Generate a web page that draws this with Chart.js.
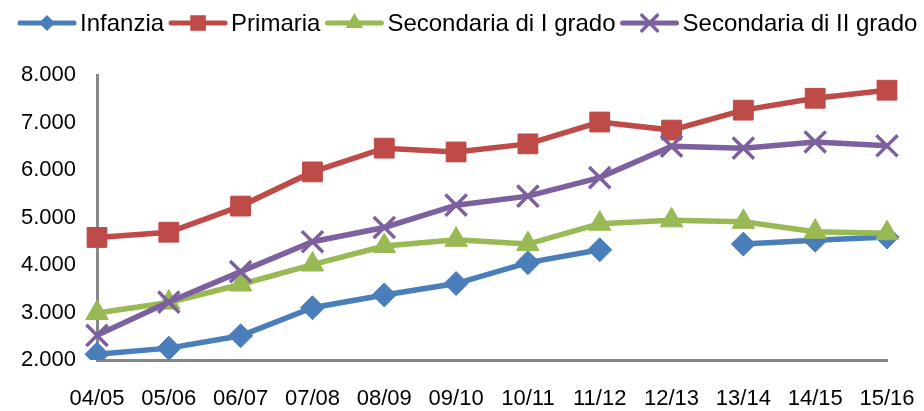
<!DOCTYPE html>
<html>
<head>
<meta charset="utf-8">
<script src="https://cdn.jsdelivr.net/npm/chart.js@4.4.1/dist/chart.umd.min.js"></script>
<style>
  html, body { margin: 0; padding: 0; background: #fff; }
  #wrap { width: 924px; height: 411px; }
</style>
</head>
<body>
<div id="wrap"><canvas id="chart" width="924" height="411"></canvas></div>
<script>
/* data */
const years = ["04/05","05/06","06/07","07/08","08/09","09/10","10/11","11/12","12/13","13/14","14/15","15/16"];
const infanzia  = [2120, 2250, 2510, 3100, 3370, 3610, 4050, 4320, null, 4440, 4520, 4590];
const primaria  = [4580, 4690, 5240, 5960, 6460, 6380, 6550, 7010, 6840, 7260, 7510, 7680];
const secondaria1 = [2990, 3210, 3590, 4010, 4400, 4530, 4440, 4870, 4940, 4910, 4700, 4670];
const secondaria2 = [2520, 3220, 3860, 4490, 4790, 5260, 5450, 5840, 6500, 6460, 6590, 6510];
const yTicks = [2000, 3000, 4000, 5000, 6000, 7000, 8000];

const FONT = "'Liberation Sans', Arial, sans-serif";

const SERIES = [
  { label: "Infanzia", data: infanzia, color: "#4a7ebb", style: "rectRot", r: 12, lr: 8 },
  { label: "Primaria", data: primaria, color: "#be4b48", style: "rect", r: 14, lr: 11 },
  { label: "Secondaria di I grado", data: secondaria1, color: "#98b954", style: "triangle", r: 13, lr: 10 },
  { label: "Secondaria di II grado", data: secondaria2, color: "#7d60a0", style: "crossRot", r: 15, lr: 11 }
];

function fmt(v){
  return Math.round(v).toString().replace(/\B(?=(\d{3})+(?!\d))/g, ".");
}

// draw a marker by hand for the legend
function marker(ctx, style, x, y, r, color){
  ctx.save();
  ctx.fillStyle = color;
  ctx.strokeStyle = color;
  ctx.beginPath();
  if(style === "rectRot"){
    ctx.moveTo(x, y - r); ctx.lineTo(x + r, y); ctx.lineTo(x, y + r); ctx.lineTo(x - r, y);
    ctx.closePath(); ctx.fill();
  } else if(style === "rect"){
    const s = r * Math.SQRT1_2;
    ctx.rect(x - s, y - s, 2 * s, 2 * s); ctx.fill();
  } else if(style === "triangle"){
    ctx.moveTo(x, y - r); ctx.lineTo(x + r * 0.866, y + r * 0.5); ctx.lineTo(x - r * 0.866, y + r * 0.5);
    ctx.closePath(); ctx.fill();
  } else {
    const o = r * Math.SQRT1_2;
    ctx.lineWidth = 3.5;
    ctx.moveTo(x - o, y - o); ctx.lineTo(x + o, y + o);
    ctx.moveTo(x + o, y - o); ctx.lineTo(x - o, y + o);
    ctx.stroke();
  }
  ctx.restore();
}

const legendPlugin = {
  id: "topLegend",
  afterDraw(chart){
    const ctx = chart.ctx;
    ctx.save();
    ctx.font = "24px " + FONT;
    ctx.textBaseline = "middle";
    let x = 20;
    const y = 23;
    SERIES.forEach(s=>{
      ctx.strokeStyle = s.color;
      ctx.lineWidth = 5;
      ctx.lineCap = "round";
      ctx.beginPath();
      ctx.moveTo(x, y); ctx.lineTo(x + 54, y);
      ctx.stroke();
      marker(ctx, s.style, x + 27, y, s.lr, s.color);
      ctx.fillStyle = "#000";
      ctx.fillText(s.label, x + 60, y + 1);
      x += 60 + ctx.measureText(s.label).width + 7;
    });
    ctx.restore();
  }
};

new Chart(document.getElementById("chart"), {
  type: "line",
  data: {
    labels: years,
    datasets: SERIES.map((s, i)=>({
      label: s.label,
      data: s.data,
      borderColor: s.color,
      backgroundColor: s.color,
      borderWidth: 5.5,
      pointStyle: s.style,
      pointRadius: s.r,
      pointBorderWidth: s.style === "crossRot" ? 3.5 : 1,
      pointBackgroundColor: s.color,
      pointBorderColor: s.color,
      tension: 0,
      spanGaps: false,
      order: SERIES.length - i
    }))
  },
  options: {
    responsive: false,
    animation: false,
    layout: { padding: { top: 75, right: 37, left: 0, bottom: 0 } },
    plugins: { legend: { display: false }, tooltip: { enabled: false } },
    scales: {
      x: {
        offset: false,
        grid: { drawOnChartArea: false, drawTicks: false, color: "transparent" },
        border: { display: true, color: "#878787", width: 3 },
        ticks: { color: "#000", font: { family: FONT, size: 22, lineHeight: 1.9 }, padding: 18, maxRotation: 0, autoSkip: false },
        afterFit(scale){
          scale.height = 51;
          // let the layout padding decide where the plot ends
          scale.paddingLeft = 0;
          scale.paddingRight = 0;
        }
      },
      y: {
        min: 2000,
        max: 8000,
        afterBuildTicks(scale){ scale.ticks = yTicks.map(v=>({ value: v })); },
        grid: { drawOnChartArea: false, drawTicks: false, color: "transparent" },
        border: { display: true, color: "#878787", width: 3 },
        ticks: { color: "#000", font: { family: FONT, size: 22 }, padding: 21, callback: v => fmt(v) },
        afterFit(scale){ scale.width = 97; }
      }
    }
  },
  plugins: [legendPlugin]
});
</script>
</body>
</html>
